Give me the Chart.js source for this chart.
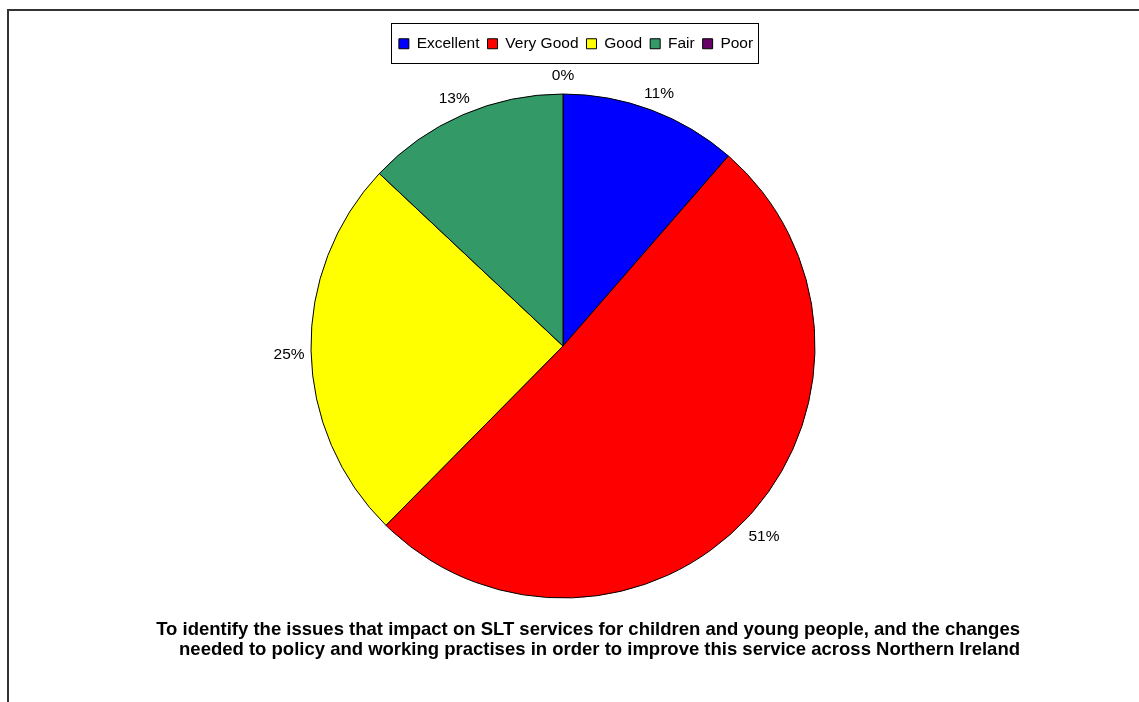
<!DOCTYPE html>
<html>
<head>
<meta charset="utf-8">
<script src="https://cdn.jsdelivr.net/npm/chart.js@4/dist/chart.umd.min.js"></script>
<style>
  html, body { margin: 0; padding: 0; background: #fff; overflow: hidden; }
  #frame {
    position: absolute; left: 7px; top: 9px; width: 1200px; height: 800px;
    border-top: 2px solid #333; border-left: 2px solid #333;
  }
  #wrap { position: absolute; left: 0; top: 0; width: 1139px; height: 702px; }
</style>
</head>
<body>
<div id="frame"></div>
<div id="wrap"><canvas id="ratingChart"></canvas></div>
<script>
const categories = ['Excellent', 'Very Good', 'Good', 'Fair', 'Poor'];
const shares = [11.4, 51.0, 24.6, 13.0, 0];
const sliceColors = ['#0000ff', '#ff0000', '#ffff00', '#339966', '#660066'];
const titleLines = [
  'To identify the issues that impact on SLT services for children and young people, and the changes',
  ' needed to policy and working practises in order to improve this service across Northern Ireland'
];

Chart.defaults.font.family = '"Liberation Sans", Arial, sans-serif';
Chart.defaults.color = '#000';

// percentage labels just outside each slice
const sliceLabels = {
  id: 'sliceLabels',
  afterDatasetsDraw(chart) {
    const ctx = chart.ctx;
    const meta = chart.getDatasetMeta(0);
    const total = shares.reduce((a, b) => a + b, 0);
    ctx.save();
    ctx.font = '15.5px "Liberation Sans", Arial, sans-serif';
    ctx.fillStyle = '#000';
    ctx.textAlign = 'center';
    ctx.textBaseline = 'middle';
    meta.data.forEach((arc, i) => {
      const p = arc.getProps(['x', 'y', 'startAngle', 'endAngle', 'outerRadius'], true);
      const mid = (p.startAngle + p.endAngle) / 2;
      const r = p.outerRadius + 22;
      const pct = Math.round(shares[i] / total * 100);
      ctx.fillText(pct + '%', p.x + Math.cos(mid) * r, p.y + 4 + Math.sin(mid) * r);
    });
    ctx.restore();
  }
};

// thin box round the legend, like the spreadsheet one
const legendFrame = {
  id: 'legendFrame',
  afterDraw(chart) {
    const boxes = chart.legend && chart.legend.legendHitBoxes;
    if (!boxes || !boxes.length) return;
    const ctx = chart.ctx;
    const first = boxes[0];
    const last = boxes[boxes.length - 1];
    const left = Math.round(first.left - 8);
    const right = Math.round(last.left + last.width + 5);
    const midY = Math.round(first.top + first.height / 2);
    ctx.save();
    ctx.strokeStyle = '#000';
    ctx.lineWidth = 1;
    ctx.strokeRect(left + 0.5, midY - 21 + 0.5, right - left, 40);
    ctx.restore();
  }
};

new Chart(document.getElementById('ratingChart'), {
  type: 'pie',
  data: {
    labels: categories,
    datasets: [{
      data: shares,
      backgroundColor: sliceColors,
      borderColor: '#000',
      borderWidth: 1,
      radius: 252
    }]
  },
  options: {
    responsive: true,
    maintainAspectRatio: false,
    animation: false,
    layout: {
      padding: { top: 28, left: 132, right: 119, bottom: 34 }
    },
    plugins: {
      legend: {
        position: 'top',
        align: 'center',
        labels: {
          boxWidth: 10,
          boxHeight: 10,
          padding: 8,
          color: '#000',
          font: { size: 15.5 }
        }
      },
      title: {
        display: true,
        position: 'bottom',
        align: 'end',
        text: titleLines,
        color: '#000',
        font: { size: 18.5, weight: 'bold', lineHeight: 1.08 },
        padding: { top: -10.5, bottom: 8 }
      },
      // empty box on the right, only to push the pie a little left
      subtitle: {
        display: true,
        position: 'right',
        text: '',
        font: { size: 10, lineHeight: 1.2 },
        padding: { top: 7, bottom: 7 }
      },
      tooltip: { enabled: false }
    }
  },
  plugins: [sliceLabels, legendFrame]
});
</script>
</body>
</html>
